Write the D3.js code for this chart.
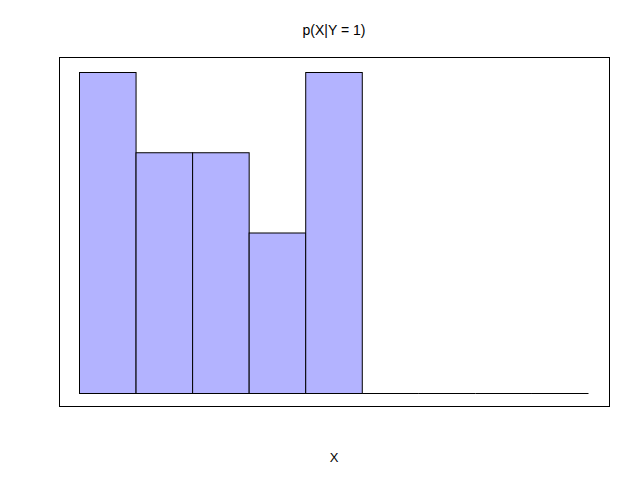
<!DOCTYPE html>
<html><head><meta charset="utf-8">
<script src="https://cdn.jsdelivr.net/npm/d3@7"></script>
<style>body{margin:0;background:#fff}svg{display:block}</style>
</head><body>
<script>
const categories = ["1","2","3","4","5","6","7","8","9"];
const values = [4,3,3,2,4,0,0,0,0];
const title = "p(X|Y = 1)";
const xLabel = "X";

const W = 640, H = 480;
const svg = d3.select("body").append("svg").attr("width", W).attr("height", H);

const x = d3.scaleBand().domain(categories).range([79.5, 588.5]).padding(0);
const y = d3.scaleLinear().domain([0, 4]).range([393.5, 72.5]);

svg.append("rect").attr("x", 59.5).attr("y", 57.5).attr("width", 550).attr("height", 349)
  .attr("fill", "none").attr("stroke", "#000").attr("stroke-width", 1);

const idx = d3.range(values.length);
svg.selectAll("rect.bar").data(idx.filter(i => values[i] > 0)).join("rect").attr("class","bar")
  .attr("x", i => x(categories[i]))
  .attr("y", i => y(values[i]))
  .attr("width", x.bandwidth())
  .attr("height", i => y(0) - y(values[i]))
  .attr("fill", "#b3b3ff").attr("stroke", "#000").attr("stroke-width", 1);

svg.selectAll("line.zero").data(idx.filter(i => values[i] === 0)).join("line").attr("class","zero")
  .attr("x1", i => x(categories[i])).attr("x2", i => x(categories[i]) + x.bandwidth())
  .attr("y1", y(0)).attr("y2", y(0))
  .attr("stroke", "#000").attr("stroke-width", 1);

svg.append("text").attr("x", 334).attr("y", 35).attr("text-anchor", "middle")
  .attr("font-family", "Liberation Sans, Arial, sans-serif").attr("font-size", 14).text(title);
svg.append("text").attr("x", 334).attr("y", 462).attr("text-anchor", "middle")
  .attr("font-family", "Liberation Sans, Arial, sans-serif").attr("font-size", 13).text(xLabel);
</script>
</body></html>
